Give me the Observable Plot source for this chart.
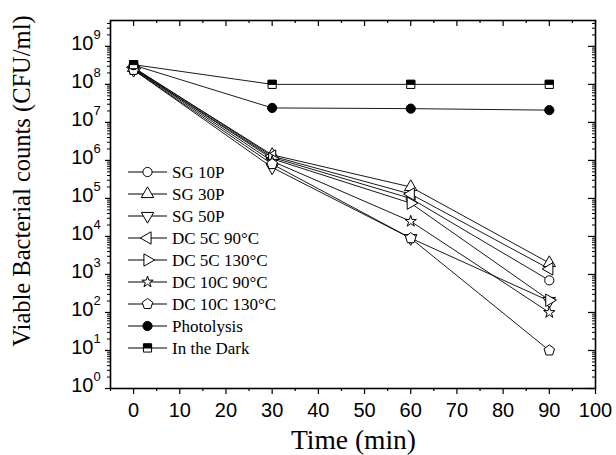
<!DOCTYPE html>
<html><head><meta charset="utf-8">
<script src="https://cdn.jsdelivr.net/npm/d3@7"></script>
<script src="https://cdn.jsdelivr.net/npm/@observablehq/plot@0.6"></script>
<style>body{margin:0;background:#fff}#chart{width:616px;height:455px}</style>
</head><body><div id="chart"></div>
<script>
// ---- data ----
const times = [0, 30, 60, 90];
const seriesNames = ["SG 10P", "SG 30P", "SG 50P", "DC 5C 90°C", "DC 5C 130°C", "DC 10C 90°C", "DC 10C 130°C", "Photolysis", "In the Dark"];
const sg10p   = [2.6e8, 1.2e6, 1.0e5, 7.0e2];
const sg30p   = [2.7e8, 1.4e6, 2.0e5, 2.0e3];
const sg50p   = [2.4e8, 6.5e5, 9.0e3, 2.0e2];
const dc5c90  = [2.8e8, 1.3e6, 1.3e5, 1.4e3];
const dc5c130 = [2.6e8, 1.1e6, 7.5e4, 2.1e2];
const dc10c90 = [2.5e8, 9.5e5, 2.5e4, 1.0e2];
const dc10c130= [2.4e8, 8.0e5, 9.0e3, 1.0e1];
const photolysis = [3.2e8, 2.4e7, 2.3e7, 2.1e7];
const inTheDark  = [3.3e8, 1.0e8, 1.0e8, 1.0e8];
const xTicks = [0, 10, 20, 30, 40, 50, 60, 70, 80, 90, 100];
const xMinorTicks = [-5, 5, 15, 25, 35, 45, 55, 65, 75, 85, 95];
const yExponents = [0, 1, 2, 3, 4, 5, 6, 7, 8, 9];

const allValues = [sg10p, sg30p, sg50p, dc5c90, dc5c130, dc10c90, dc10c130, photolysis, inTheDark];

// ---- symbols ----
const s3 = Math.sqrt(3);
function tri(dir) {
  return {draw(ctx, size) {
    const y = -Math.sqrt(size / (s3 * 3));
    let pts = [[0, y * 2], [-s3 * y, -y], [s3 * y, -y]]; // up
    if (dir === "down") pts = pts.map(([a, b]) => [a, -b]);
    if (dir === "left") pts = pts.map(([a, b]) => [b, a]);
    if (dir === "right") pts = pts.map(([a, b]) => [-b, a]);
    ctx.moveTo(pts[0][0], pts[0][1]); ctx.lineTo(pts[1][0], pts[1][1]); ctx.lineTo(pts[2][0], pts[2][1]); ctx.closePath();
  }};
}
const pentagon = {draw(ctx, size) {
  const R = Math.sqrt(size / 2.378) * 1.05;
  for (let k = 0; k < 5; k++) {
    const a = -Math.PI / 2 + k * 2 * Math.PI / 5;
    const px = R * Math.cos(a), py = R * Math.sin(a);
    k ? ctx.lineTo(px, py) : ctx.moveTo(px, py);
  }
  ctx.closePath();
}};
const smallStar = {draw(ctx, size) { d3.symbolStar.draw(ctx, size * 0.6); }};
const halfSquareTop = {draw(ctx, size) {
  const w = Math.sqrt(size);
  ctx.moveTo(-w / 2, -w / 2); ctx.lineTo(w / 2, -w / 2); ctx.lineTo(w / 2, 0); ctx.lineTo(-w / 2, 0); ctx.closePath();
}};
const styles = [
  {symbol: d3.symbolCircle, fill: "white"},
  {symbol: tri("up"), fill: "white"},
  {symbol: tri("down"), fill: "white"},
  {symbol: tri("left"), fill: "white"},
  {symbol: tri("right"), fill: "white"},
  {symbol: smallStar, fill: "white"},
  {symbol: pentagon, fill: "white"},
  {symbol: d3.symbolCircle, fill: "black"},
  {symbol: d3.symbolSquare, fill: "white", half: true}
];

const rows = [];
seriesNames.forEach((s, i) => times.forEach((t, j) => rows.push({s, i, t, v: allValues[i][j]})));

const W = 616, H = 455, mL = 110, mR = 21, mT = 20, mB = 67;
const fw = W - mL - mR, fh = H - mT - mB;
const yMinor = [];
for (const e of yExponents) for (let k = 2; k <= 9; k++) { const v = k * 10 ** e; if (v <= 4.8e9) yMinor.push(v); }
const yMajor = yExponents.map(e => 10 ** e);
const R = 4.6;
const SANS = "Liberation Sans, Arial, sans-serif";
const SERIF = "Liberation Serif, Times New Roman, serif";

const marks = [
  // bottom axis (outward ticks)
  Plot.axisX(xTicks, {anchor: "bottom", tickSize: 6, tickPadding: 8, fontSize: 20, fontFamily: SANS, fill: "black", stroke: "black", strokeWidth: 1.2, label: null}),
  Plot.axisX(xMinorTicks, {anchor: "bottom", tickSize: 3, tickFormat: () => "", strokeWidth: 1.2, label: null}),
  // top inward ticks
  Plot.tickX(xTicks, {x: d => d, insetBottom: fh - 6, stroke: "black", strokeWidth: 1.2}),
  Plot.tickX(xMinorTicks, {x: d => d, insetBottom: fh - 3, stroke: "black", strokeWidth: 1.2}),
  // left outward ticks
  Plot.axisY(yMajor, {anchor: "left", tickSize: 5, tickFormat: () => "", strokeWidth: 1.2, label: null}),
  Plot.axisY(yMinor, {anchor: "left", tickSize: 3, tickFormat: () => "", strokeWidth: 1, label: null}),
  // right inward ticks
  Plot.tickY(yMajor, {y: d => d, insetLeft: fw - 7, stroke: "black", strokeWidth: 1.2}),
  Plot.tickY(yMinor, {y: d => d, insetLeft: fw - 3, stroke: "black", strokeWidth: 1}),
  // y tick labels 10^n
  Plot.text(yExponents, {y: d => 10 ** d, text: () => "10", frameAnchor: "left", dx: -17, dy: -3, textAnchor: "end", fontSize: 20, fontFamily: SANS, fill: "black"}),
  Plot.text(yExponents, {y: d => 10 ** d, text: d => String(d), frameAnchor: "left", dx: -17, dy: -12, textAnchor: "start", fontSize: 13, fontFamily: SANS, fill: "black"}),
  Plot.frame({stroke: "black", strokeWidth: 1.6}),
  Plot.line(rows, {x: "t", y: "v", z: "s", stroke: "black", strokeWidth: 0.9})
];
seriesNames.forEach((s, i) => {
  const data = rows.filter(r => r.i === i);
  marks.push(Plot.dot(data, {x: "t", y: "v", r: R, symbol: styles[i].symbol, fill: styles[i].fill, stroke: "black", strokeWidth: 1}));
  if (styles[i].half) marks.push(Plot.dot(data, {x: "t", y: "v", r: R, symbol: halfSquareTop, fill: "black", stroke: "black", strokeWidth: 1}));
});

const svg = Plot.plot({
  width: W, height: H, marginLeft: mL, marginRight: mR, marginTop: mT, marginBottom: mB,
  style: {background: "white", color: "black", overflow: "visible"},
  x: {domain: [-5, 100], axis: null},
  y: {type: "log", domain: [1, 10 ** 9.68], axis: null},
  marks
});

const g = d3.select(svg);
// axis titles
g.append("text").attr("x", mL + fw / 2 + 1).attr("y", 449).attr("text-anchor", "middle")
  .attr("font-family", SERIF).attr("font-size", 27.5).attr("fill", "black").text("Time (min)");
g.append("text").attr("transform", `translate(30,181) rotate(-90)`).attr("text-anchor", "middle")
  .attr("font-family", SERIF).attr("font-size", 24.5).attr("fill", "black").text("Viable Bacterial counts (CFU/ml)");
// legend
const lg = g.append("g").attr("text-anchor", "start");
seriesNames.forEach((s, i) => {
  const yy = 172 + 22 * i;
  const row = lg.append("g").attr("transform", `translate(0,${yy})`);
  row.append("line").attr("x1", 128).attr("x2", 167).attr("y1", 0).attr("y2", 0).attr("stroke", "black").attr("stroke-width", 1);
  const sz = Math.PI * R * R;
  row.append("path").attr("transform", "translate(147.5,0)").attr("d", d3.symbol().type(styles[i].symbol).size(sz)())
    .attr("fill", styles[i].fill).attr("stroke", "black").attr("stroke-width", 1);
  if (styles[i].half) row.append("path").attr("transform", "translate(147.5,0)").attr("d", d3.symbol().type(halfSquareTop).size(sz)())
    .attr("fill", "black").attr("stroke", "black").attr("stroke-width", 1);
  row.append("text").attr("x", 172).attr("y", 0).attr("dy", "0.35em").attr("text-anchor", "start").attr("font-family", SERIF)
    .attr("font-size", 17).attr("fill", "black").text(s);
});

document.getElementById("chart").appendChild(svg);
</script></body></html>
